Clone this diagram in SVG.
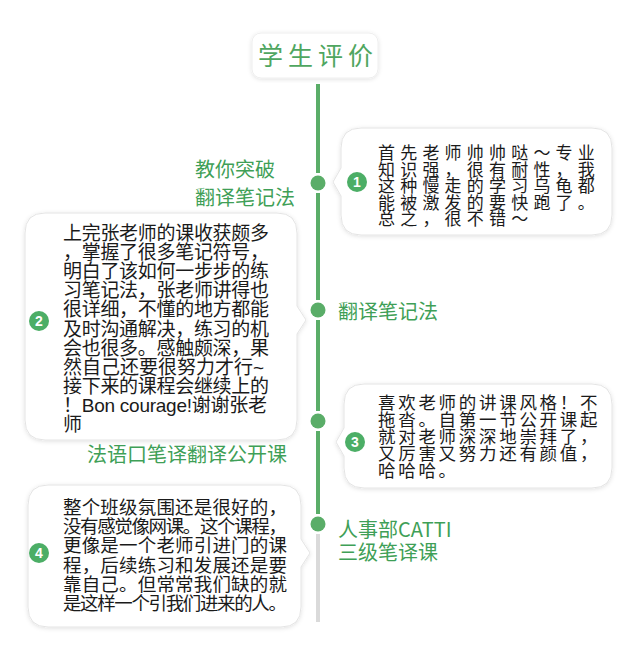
<svg xmlns="http://www.w3.org/2000/svg" width="640" height="664" viewBox="0 0 640 664">
<defs>
<filter id="sh" x="-10%" y="-10%" width="120%" height="120%">
<feDropShadow dx="0" dy="1" stdDeviation="2" flood-color="#000" flood-opacity="0.12"/>
</filter>
<style>
.bub{fill:#fff;stroke:#e4e4e4;stroke-width:1;filter:url(#sh)}
.t{font-family:"Liberation Sans","Noto Sans CJK SC",sans-serif;fill:#1a1a1a}
.lab{font-family:"Noto Sans CJK SC",sans-serif;fill:#3f9f57;font-size:20px}
.num{fill:#4cae66}
.nt{font-family:"Liberation Sans",sans-serif;font-weight:bold;font-size:14px;fill:#fff;text-anchor:middle}
.ln{stroke:#5aad68;stroke-width:4}
.dot{fill:#5aad68}
</style>
</defs>
<rect width="640" height="664" fill="#fff"/>

<g id="title">
<rect x="252" y="33" width="126" height="45" rx="9" fill="#fff" stroke="#eeeeee" filter="url(#sh)"/>
<text x="318" y="65" text-anchor="middle" font-family="Noto Sans CJK SC,sans-serif" font-size="25" letter-spacing="5" fill="#4fa660">学生评价</text>
</g>

<g id="connectors">
<line class="ln" x1="318" y1="84" x2="318" y2="173"/>
<line class="ln" x1="318" y1="193" x2="318" y2="300"/>
<line class="ln" x1="318" y1="320" x2="318" y2="411"/>
<line class="ln" x1="318" y1="431" x2="318" y2="514"/>
<line x1="318" y1="534" x2="318" y2="622" stroke="#dadada" stroke-width="4"/>
<circle class="dot" cx="318" cy="183" r="7.5"/>
<circle class="dot" cx="318" cy="310" r="7.5"/>
<circle class="dot" cx="318" cy="421" r="7.5"/>
<circle class="dot" cx="318" cy="524" r="7.5"/>
</g>

<g id="label1">
<text class="lab" x="195" y="177">教你突破</text>
<text class="lab" x="195" y="205">翻译笔记法</text>
</g>
<g id="label2"><text class="lab" x="338" y="319" font-size="21">翻译笔记法</text></g>
<g id="label3"><text class="lab" x="87" y="462">法语口笔译翻译公开课</text></g>
<g id="label4">
<text class="lab" x="338" y="537" font-size="19">人事部CATTI</text>
<text class="lab" x="338" y="560" font-size="19">三级笔译课</text>
</g>

<g id="review1">
<path class="bub" d="M361,128 H592 Q612,128 612,148 V215 Q612,235 592,235 H361 Q341,235 341,215 V196 L333,182 L341,168 V148 Q341,128 361,128 Z"/>
<circle class="num" cx="357" cy="182" r="10"/>
<text class="nt" x="357" y="187">1</text>
<g class="t" font-size="17" letter-spacing="5.2">
<text x="378" y="159">首先老师帅帅哒～专业</text>
<text x="378" y="175.5">知识强，很有耐性，我</text>
<text x="378" y="192">这种慢走的学习乌龟都</text>
<text x="378" y="208.5">能被激发的要快跑了。</text>
<text x="378" y="225">总之，很不错～</text>
</g>
</g>

<g id="review2">
<path class="bub" d="M45,213 H277 Q297,213 297,233 V306 L306,320 L297,334 V420 Q297,440 277,440 H45 Q25,440 25,420 V233 Q25,213 45,213 Z"/>
<circle class="num" cx="39" cy="321" r="10"/>
<text class="nt" x="39" y="326">2</text>
<g class="t" font-size="19">
<text x="63" y="240" textLength="206" lengthAdjust="spacing">上完张老师的课收获颇多</text>
<text x="63" y="259.1" textLength="206" lengthAdjust="spacing">，掌握了很多笔记符号，</text>
<text x="63" y="278.2" textLength="206" lengthAdjust="spacing">明白了该如何一步步的练</text>
<text x="63" y="297.3" textLength="206" lengthAdjust="spacing">习笔记法，张老师讲得也</text>
<text x="63" y="316.4" textLength="206" lengthAdjust="spacing">很详细，不懂的地方都能</text>
<text x="63" y="335.5" textLength="206" lengthAdjust="spacing">及时沟通解决，练习的机</text>
<text x="63" y="354.6" textLength="206" lengthAdjust="spacing">会也很多。感触颇深，果</text>
<text x="63" y="373.7">然自己还要很努力才行~</text>
<text x="63" y="392.8" textLength="206" lengthAdjust="spacing">接下来的课程会继续上的</text>
<text x="63" y="411.9" textLength="204" lengthAdjust="spacing">！Bon courage!谢谢张老</text>
<text x="63" y="431">师</text>
</g>
</g>

<g id="review3">
<path class="bub" d="M364,384 H592 Q612,384 612,404 V468 Q612,488 592,488 H364 Q344,488 344,468 V456 L336,442 L344,428 V404 Q344,384 364,384 Z"/>
<circle class="num" cx="355" cy="442" r="10"/>
<text class="nt" x="355" y="447">3</text>
<g class="t" font-size="17.5" letter-spacing="2.7">
<text x="378" y="409">喜欢老师的讲课风格！不</text>
<text x="378" y="426">拖沓。自第一节公开课起</text>
<text x="378" y="443">就对老师深深地崇拜了，</text>
<text x="378" y="460">又厉害又努力还有颜值，</text>
<text x="378" y="477">哈哈哈。</text>
</g>
</g>

<g id="review4">
<path class="bub" d="M48,485 H281 Q301,485 301,505 V539 L310,553 L301,567 V607 Q301,627 281,627 H48 Q28,627 28,607 V505 Q28,485 48,485 Z"/>
<circle class="num" cx="39" cy="553" r="10"/>
<text class="nt" x="39" y="558">4</text>
<g class="t" font-size="18.5">
<text x="63" y="514" textLength="224" lengthAdjust="spacing">整个班级氛围还是很好的，</text>
<text x="63" y="533.2" textLength="224" lengthAdjust="spacing">没有感觉像网课。这个课程，</text>
<text x="63" y="552.4" textLength="224" lengthAdjust="spacing">更像是一个老师引进门的课</text>
<text x="63" y="571.6" textLength="224" lengthAdjust="spacing">程，后续练习和发展还是要</text>
<text x="63" y="590.8" textLength="224" lengthAdjust="spacing">靠自己。但常常我们缺的就</text>
<text x="63" y="610" textLength="224" lengthAdjust="spacing">是这样一个引我们进来的人。</text>
</g>
</g>
</svg>
